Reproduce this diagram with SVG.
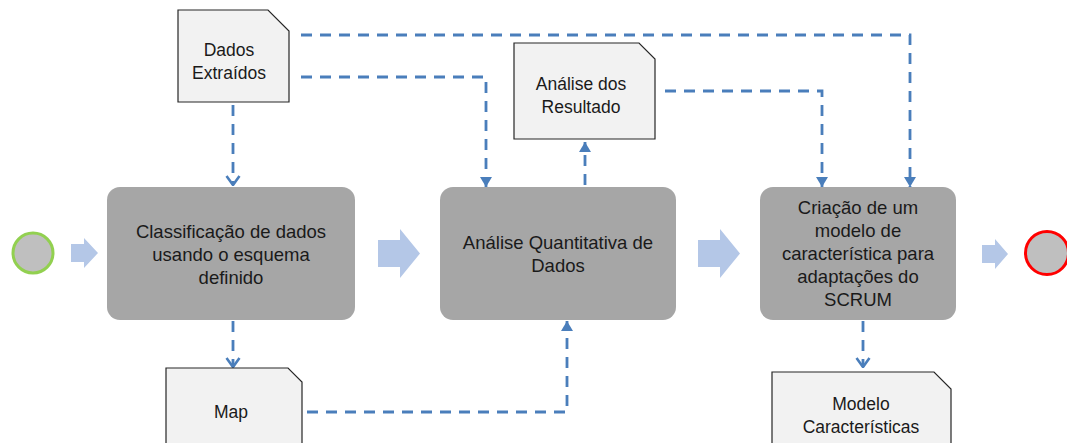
<svg xmlns="http://www.w3.org/2000/svg" width="1067" height="443" viewBox="0 0 1067 443">
  <style>
    text { font-family: "Liberation Sans", Arial, sans-serif; font-size: 18.5px; fill: #1a1a1a; text-anchor: middle; }
    .doc text { font-size: 17.5px; }
    .task { fill: #a6a6a6; }
    .sheet { fill: #f2f2f2; stroke: #262626; stroke-width: 1.2; }
    .flow { fill: #b4c7e7; }
    .link { fill: none; stroke: #4a7ebb; stroke-width: 2.8; stroke-dasharray: 11 8; }
  </style>
  <defs>
    <!-- heads drawn along +x so orient="auto" turns them with the line -->
    <marker id="open" viewBox="0 0 11 16" refX="10" refY="8" markerWidth="11" markerHeight="16" markerUnits="userSpaceOnUse" orient="auto">
      <path d="M1,1.5 L10,8 L1,14.5" fill="none" stroke="#4a7ebb" stroke-width="2.6"/>
    </marker>
    <marker id="solid" viewBox="0 0 10 12" refX="10" refY="6" markerWidth="10" markerHeight="12" markerUnits="userSpaceOnUse" orient="auto">
      <path d="M0,0 L10,6 L0,12 Z" fill="#4a7ebb"/>
    </marker>
  </defs>

  <rect width="1067" height="443" fill="#ffffff"/>

  <!-- connectors -->
  <g id="connectors">
    <path class="flow" d="M71,244 H84 V238 L98,253 L84,268 V262 H71 Z"/>
    <path class="flow" d="M378,240 H400 V229 L420,253.5 L400,278 V267 H378 Z"/>
    <path class="flow" d="M698,240 H720 V229 L740,253.5 L720,278 V267 H698 Z"/>
    <path class="flow" d="M982,245 H995 V239 L1008,254 L995,269 V263 H982 Z"/>

    <path class="link" d="M233,105 V185" marker-end="url(#open)"/>
    <path class="link" d="M301,35 H910 V187" marker-end="url(#solid)"/>
    <path class="link" d="M301,77 H486 V187" marker-end="url(#solid)"/>
    <path class="link" d="M665,91 H822 V187" marker-end="url(#solid)"/>
    <path class="link" d="M585,185 V142" marker-end="url(#solid)"/>
    <path class="link" d="M233,321 V367" marker-end="url(#open)"/>
    <path class="link" d="M307,412 H567 V321" marker-end="url(#solid)"/>
    <path class="link" d="M863,321 V367" marker-end="url(#open)"/>
  </g>

  <!-- start / end events -->
  <g id="start">
    <circle cx="33" cy="253" r="20" fill="#bfbfbf" stroke="#92d050" stroke-width="3"/>
  </g>
  <g id="end">
    <circle cx="1047" cy="253" r="21.5" fill="#bfbfbf" stroke="#ff0000" stroke-width="3"/>
  </g>

  <!-- tasks -->
  <g id="classificacao">
    <rect class="task" x="107" y="187" width="248" height="133" rx="13"/>
    <text x="231" y="238">Classificação de dados</text>
    <text x="231" y="261">usando o esquema</text>
    <text x="231" y="284">definido</text>
  </g>
  <g id="analise-quantitativa">
    <rect class="task" x="440" y="187" width="236" height="133" rx="13"/>
    <text x="558" y="249">Análise Quantitativa de</text>
    <text x="558" y="272">Dados</text>
  </g>
  <g id="criacao">
    <rect class="task" x="760" y="187" width="196" height="133" rx="13"/>
    <text x="858" y="214">Criação de um</text>
    <text x="858" y="237">modelo de</text>
    <text x="858" y="260">característica para</text>
    <text x="858" y="283">adaptações do</text>
    <text x="858" y="306">SCRUM</text>
  </g>

  <!-- data documents -->
  <g id="dados-extraidos" class="doc">
    <path class="sheet" d="M178,10 H268 L289,31 V102 H178 Z"/>
    <text x="229" y="56">Dados</text>
    <text x="229" y="79">Extraídos</text>
  </g>
  <g id="analise-resultado" class="doc">
    <path class="sheet" d="M514,43 H639 L655,59 V139 H514 Z"/>
    <text x="581" y="90">Análise dos</text>
    <text x="581" y="113">Resultado</text>
  </g>
  <g id="map" class="doc">
    <path class="sheet" d="M166,368 H288 L302,382 V450 H166 Z"/>
    <text x="231" y="418">Map</text>
  </g>
  <g id="modelo" class="doc">
    <path class="sheet" d="M772,372 H934 L951,389 V450 H772 Z"/>
    <text x="861" y="410">Modelo</text>
    <text x="861" y="433">Características</text>
  </g>
</svg>
